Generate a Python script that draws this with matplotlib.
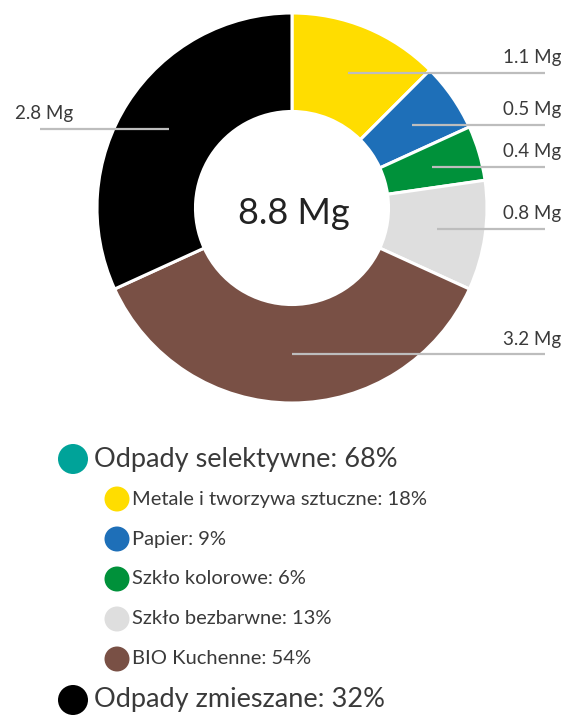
import numpy as np
import matplotlib
matplotlib.use("Agg")
import matplotlib.pyplot as plt
from matplotlib.patches import Circle

plt.rcParams['font.family'] = ['Lato', 'DejaVu Sans']

# ---- data ----
categories = ["Metale i tworzywa sztuczne", "Papier", "Szkło kolorowe",
              "Szkło bezbarwne", "BIO Kuchenne", "Odpady zmieszane"]
values_mg = [1.1, 0.5, 0.4, 0.8, 3.2, 2.8]
colors = ["#FFDD00", "#1E6FB8", "#00913A", "#DEDEDE", "#795045", "#000000"]
total_label = "8.8 Mg"

group_labels = ["Odpady selektywne", "Odpady zmieszane"]
group_pct = [68, 32]
group_colors = ["#00A399", "#000000"]
sub_labels = categories[:5]
sub_pct = [18, 9, 6, 13, 54]
sub_colors = colors[:5]

# ---- figure in pixel coordinates ----
W, H = 568, 715
fig = plt.figure(figsize=(W / 100, H / 100), dpi=100)
ax = fig.add_axes([0, 0, 1, 1])

cx, cy, R = 292, H - 208, 195
ring = 0.505

wedges, _ = ax.pie(values_mg, colors=colors, startangle=90, counterclock=False,
                   center=(cx, cy), radius=R, frame=True,
                   wedgeprops=dict(width=R * ring, edgecolor="white", linewidth=2.2))
ax.set_xlim(0, W)
ax.set_ylim(0, H)
ax.set_aspect("equal")
ax.axis("off")

ax.text(cx + 2, cy - 5, total_label, ha="center", va="center", fontsize=26, color="#222222")

# leader lines and value labels
r_mid = R * 0.75
line_color = "#BDBDBD"
text_color = "#3a3a3a"
for w, v in zip(wedges, values_mg):
    ang = np.deg2rad((w.theta1 + w.theta2) / 2)
    x0 = cx + r_mid * np.cos(ang)
    y0 = cy + r_mid * np.sin(ang)
    lab = f"{v:.1f} Mg"
    if np.cos(ang) >= -0.01:
        x1 = 545
        ax.plot([x0, x1], [y0, y0], color=line_color, lw=1.6, solid_capstyle="butt", zorder=3)
        ax.text(x1 + 16, y0 + 15, lab, ha="right", va="center", fontsize=13.5, color=text_color)
    else:
        x1 = 40
        ax.plot([x0, x1], [y0, y0], color=line_color, lw=1.6, solid_capstyle="butt", zorder=3)
        ax.text(x1 - 25, y0 + 15, lab, ha="left", va="center", fontsize=13.5, color=text_color)

# legend
def legend_item(x, y, r, color, text, fs, gap):
    ax.add_patch(Circle((x, H - y), r, color=color, ec="none"))
    ax.text(x + r + gap, H - y, text, ha="left", va="center", fontsize=fs, color=text_color)

legend_item(73, 459, 15, group_colors[0], f"{group_labels[0]}: {group_pct[0]}%", 19.5, 6)
for i, (lab, p, c) in enumerate(zip(sub_labels, sub_pct, sub_colors)):
    legend_item(117, 499 + 40 * i, 12.5, c, f"{lab}: {p}%", 14.5, 2)
legend_item(73, 700, 15, group_colors[1], f"{group_labels[1]}: {group_pct[1]}%", 19.5, 6)

fig.savefig("out.png", dpi=100, facecolor="white")
